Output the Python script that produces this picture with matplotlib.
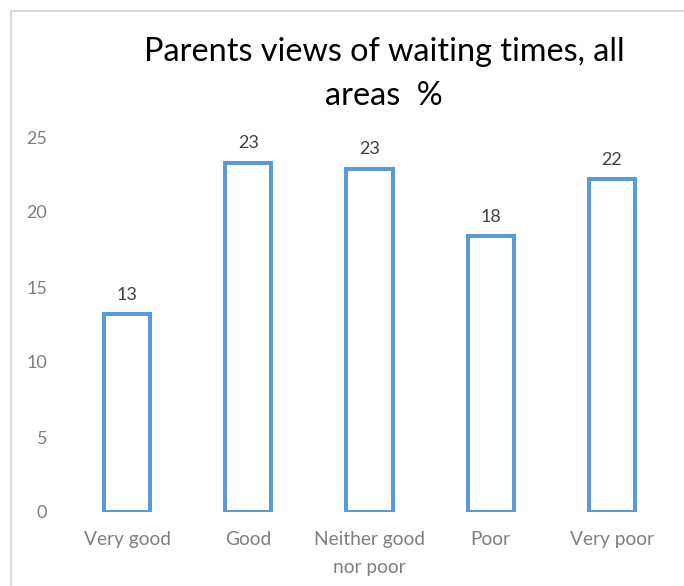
import matplotlib
matplotlib.use("Agg")
import matplotlib.pyplot as plt
from matplotlib.patches import Rectangle

categories = ["Very good", "Good", "Neither good\nnor poor", "Poor", "Very poor"]
values = [13.2, 23.3, 22.9, 18.4, 22.2]
labels = ["13", "23", "23", "18", "22"]
yticks = [0, 5, 10, 15, 20, 25]
title = "Parents views of waiting times, all\nareas  %"

plt.rcParams['font.family'] = ['Lato', 'DejaVu Sans']

W, H = 684, 586
fig = plt.figure(figsize=(W/100, H/100), dpi=100)
fig.patches.append(Rectangle((11/W, -0.1), 1.2, 1 - 11/H + 0.1, transform=fig.transFigure,
                             fill=False, edgecolor='#d9d9d9', linewidth=1.5))

ax = fig.add_axes([66.5/W, 74/H, (672.5-66.5)/W, (512-137)/H])
x = list(range(len(categories)))
ax.bar(x, values, width=0.38, facecolor='white', edgecolor='#5B9BD5', linewidth=2.9)
for xi, v, lab in zip(x, values, labels):
    ax.annotate(lab, (xi, v), xytext=(0, 8), textcoords='offset points',
                ha='center', va='bottom', fontsize=13, color='#404040')

ax.set_xlim(-0.5, 4.5)
ax.set_ylim(0, 25)
ax.set_yticks(yticks)
ax.set_yticklabels([str(t) for t in yticks], fontsize=13, color='#7f7f7f')
ax.set_xticks(x)
ax.set_xticklabels(categories, fontsize=13.8, color='#7f7f7f', linespacing=1.75, va='top')
ax.tick_params(length=0)
ax.tick_params(axis='x', pad=14)
ax.tick_params(axis='y', pad=14)
for s in ax.spines.values():
    s.set_visible(False)

fig.text(384/W, 1 - 74/H, title, ha='center', va='center', fontsize=23.3,
         color='black', linespacing=1.55)

fig.savefig("out.png", dpi=100)
